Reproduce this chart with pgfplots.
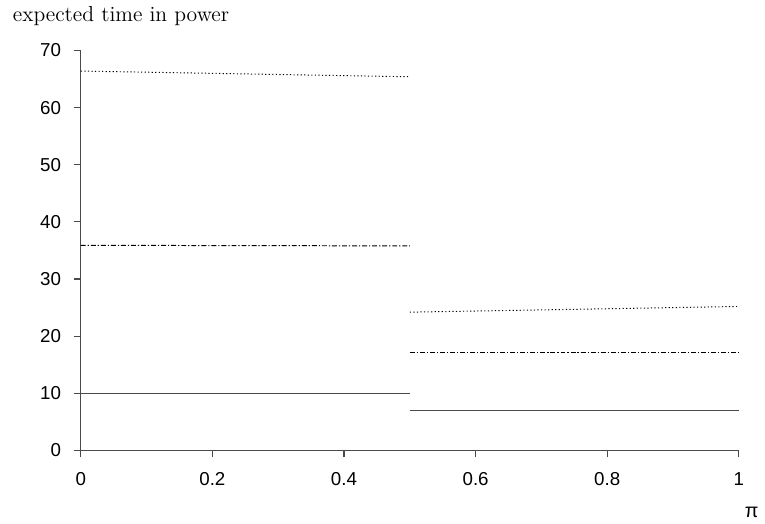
\documentclass[border=0pt]{standalone}
\usepackage{fontspec}
\newfontfamily\arial{Liberation Sans}
\usepackage{pgfplots}
\pgfplotsset{compat=1.18}
\definecolor{linegray}{HTML}{4A4A4A}

\begin{document}
\begin{tikzpicture}
  \begin{axis}[
    width=334pt, height=203pt,
    scale only axis,
    xmin=0, xmax=1, ymin=0, ymax=70,
    axis lines=left,
    axis line style={-, draw=linegray, line width=0.6pt},
    tick align=outside,
    major tick length=3.5pt,
    tick style={draw=linegray, line width=0.6pt},
    xtick={0,0.2,0.4,0.6,0.8,1},
    xticklabels={0,0.2,0.4,0.6,0.8,1},
    ytick={0,10,...,70},
    /pgf/number format/assume math mode=true,
    ticklabel style={font=\arial\fontsize{9.5}{11}\selectfont},
    xticklabel style={yshift=-4pt},
    yticklabel style={xshift=-3pt},
    xlabel={\arial\fontsize{10}{12}\selectfont π},
    xlabel style={at={(axis description cs:1,0)}, anchor=north, xshift=6.5pt, yshift=-25pt},
    ylabel={\fontsize{11}{13}\selectfont expected time in power},
    ylabel style={rotate=-90, at={(axis description cs:0,1)}, anchor=south west, xshift=-38pt, yshift=9pt},
    clip=false,
  ]
    % solid
    \addplot[linegray, line width=0.7pt] coordinates {(0,10.0) (0.5,10.0)};
    \addplot[linegray, line width=0.7pt] coordinates {(0.5,7.0) (1,7.0)};
    % dash-dot
    \addplot[black, line width=0.5pt, dash pattern=on 2.5pt off 1pt on 0.6pt off 1pt] coordinates {(0,35.9) (0.5,35.8)};
    \addplot[black, line width=0.5pt, dash pattern=on 2.5pt off 1pt on 0.6pt off 1pt] coordinates {(0.5,17.1) (1,17.1)};
    % dotted
    \addplot[black, line width=0.5pt, dash pattern=on 0.6pt off 1.2pt] coordinates {(0,66.4) (0.5,65.4)};
    \addplot[black, line width=0.5pt, dash pattern=on 0.6pt off 1.2pt] coordinates {(0.5,24.2) (1,25.2)};
  \end{axis}
  % keep the left margin of the original
  \path (current axis.south west) ++(-41pt,0pt);
\end{tikzpicture}
\end{document}
